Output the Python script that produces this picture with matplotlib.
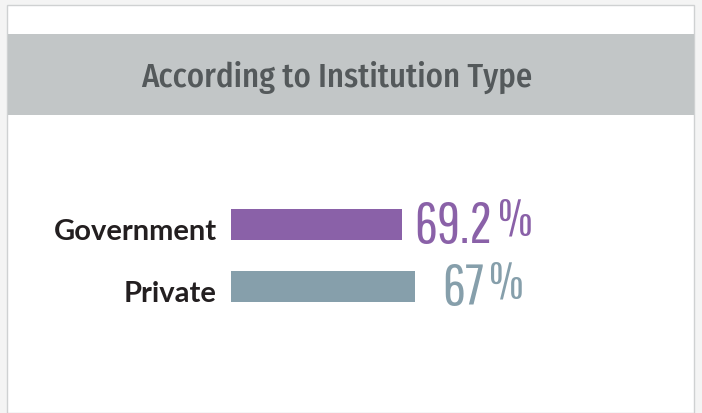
import matplotlib.pyplot as plt
from matplotlib.patches import Rectangle
from matplotlib import transforms

# data
categories = ["Government", "Private"]
values = [69.2, 67]
bar_len = [62, 67]          # drawn bar lengths (axis 0-100)
colors = ["#8a61a8", "#869fab"]
title = "According to Institution Type"

W, H = 702, 413
fig = plt.figure(figsize=(W / 100, H / 100), dpi=100)
fig.patch.set_facecolor("#f4f4f4")

# white card + grey header band
fig.patches.append(Rectangle((7 / W, 0), 687 / W, 408 / H, transform=fig.transFigure,
                             facecolor="white", edgecolor="#cfd1d2", lw=1.0, zorder=0))
fig.patches.append(Rectangle((7.5 / W, (H - 115) / H), 686 / W, 81 / H,
                             transform=fig.transFigure, facecolor="#c2c6c7",
                             edgecolor="none", zorder=1))
fig.text(337 / W, (H - 77) / H, title, ha="center", va="center",
         fontsize=23.5, family="Fira Sans Condensed", weight="medium", color="#54595b")

# bar axes: x 0-100 over 275 px starting at x=231
ax = fig.add_axes([231 / W, (H - 318) / H, 275 / W, 125 / H])
ax.set_zorder(5)
ax.set_xlim(0, 100)
ax.set_ylim(1.5, -0.5)
ax.axis("off")
ax.barh(range(len(categories)), bar_len, height=0.5, color=colors)

lab_tr = transforms.blended_transform_factory(ax.transAxes, ax.transData)
for i, name in enumerate(categories):
    ax.text(-14 / 275, i + 0.25, name, transform=lab_tr, ha="right", va="baseline",
            fontsize=21, family="Lato", weight="bold", color="#231f20")

# value labels: number then a smaller, raised percent sign
fig.canvas.draw()
renderer = fig.canvas.get_renderer()
gaps = [13, 27]
for i, v in enumerate(values):
    tr = transforms.offset_copy(ax.transData, fig=fig, x=gaps[i], y=0, units="dots")
    t = ax.text(bar_len[i], i + 0.3, f"{v:g}", transform=tr, ha="left",
                va="baseline", fontsize=41, family="Pathway Gothic One",
                color=colors[i])
    bb = t.get_window_extent(renderer)
    tr2 = transforms.offset_copy(ax.transData, fig=fig,
                                 x=gaps[i] + (bb.x1 - bb.x0) + 5, y=8, units="dots")
    ax.text(bar_len[i], i + 0.3, "%", transform=tr2, ha="left", va="baseline",
            fontsize=36, family="Pathway Gothic One", color=colors[i])

fig.savefig("out.png", dpi=100, facecolor=fig.get_facecolor())
